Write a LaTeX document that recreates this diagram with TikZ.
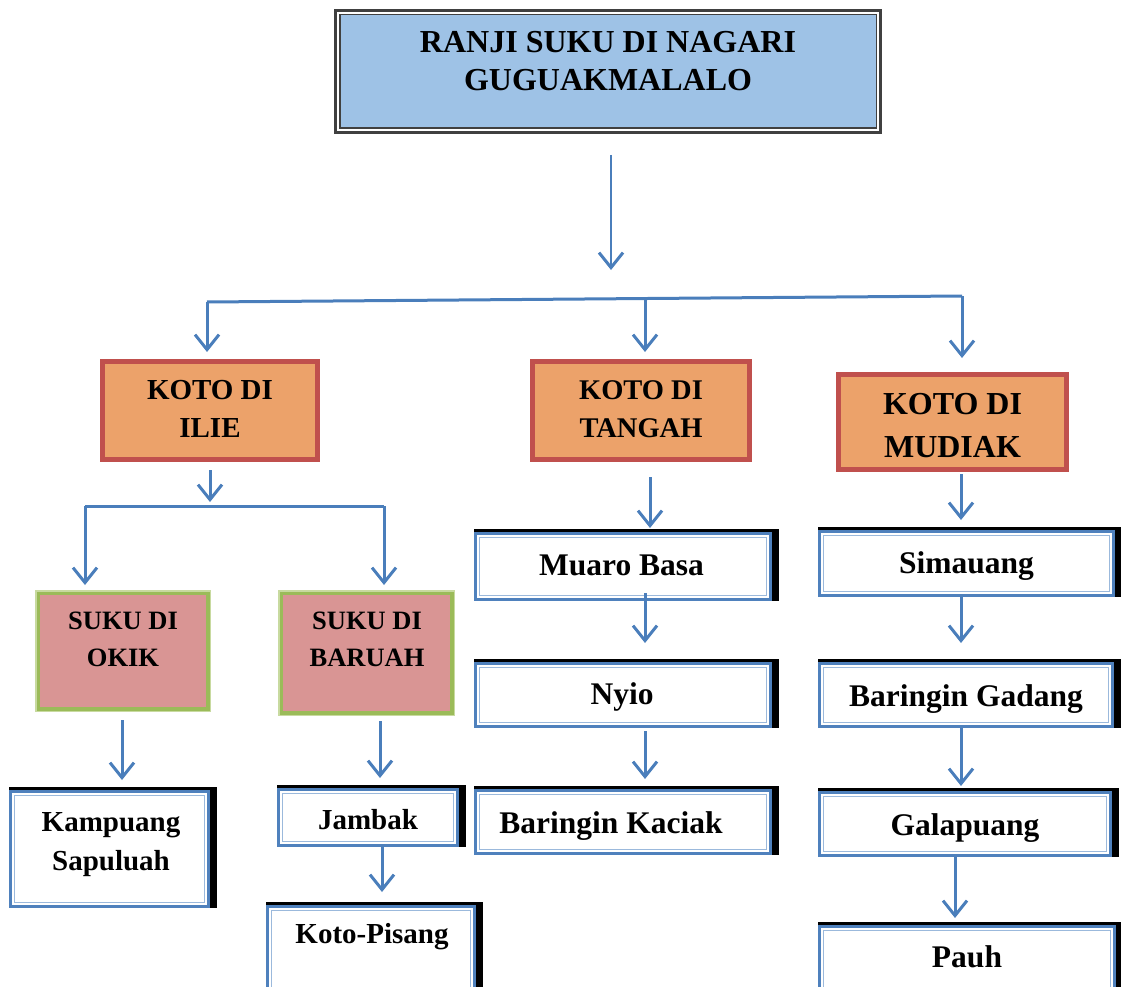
\documentclass[tikz,border=0pt]{standalone}
\usepackage{fontspec}
\setmainfont{Liberation Serif}
\usetikzlibrary{arrows.meta,backgrounds}
\definecolor{titlefill}{RGB}{158,194,230}
\definecolor{titleline}{RGB}{64,64,64}
\definecolor{orangefill}{RGB}{236,162,106}
\definecolor{redline}{RGB}{192,80,77}
\definecolor{pinkfill}{RGB}{217,149,148}
\definecolor{greenline}{RGB}{155,187,89}
\definecolor{lgreenline}{RGB}{200,218,160}
\definecolor{blueline}{RGB}{79,129,189}
\definecolor{lblueline}{RGB}{155,185,220}
\definecolor{arrowblue}{RGB}{74,126,187}
\newcommand{\fs}[2]{\fontsize{#1}{#2}\selectfont\bfseries}
\tikzset{
  arr/.style={draw=arrowblue, line width=3pt, line join=round,
    -{Straight Barb[length=15pt,width=24pt,line width=3pt]}},
  ln/.style={draw=arrowblue, line width=3pt, line join=round},
  titlebox/.style={draw=titleline, line width=3pt, fill=titlefill, inner sep=0pt,
    path picture={
      \draw[white, line width=2pt]
        ([shift={(2.5pt,2.5pt)}]path picture bounding box.south west) rectangle
        ([shift={(-2.5pt,-2.5pt)}]path picture bounding box.north east);
      \draw[titleline, line width=1.4pt]
        ([shift={(4.3pt,4.3pt)}]path picture bounding box.south west) rectangle
        ([shift={(-4.3pt,-4.3pt)}]path picture bounding box.north east);}},
  kotobox/.style={draw=redline, line width=5pt, fill=orangefill, inner sep=0pt},
  sukubox/.style={draw=lgreenline, line width=1.5pt, fill=pinkfill, inner sep=0pt,
    path picture={
      \draw[greenline, line width=3.2pt]
        ([shift={(2.3pt,2.3pt)}]path picture bounding box.south west) rectangle
        ([shift={(-2.3pt,-2.3pt)}]path picture bounding box.north east);}},
  whitebox/.style={draw=blueline, line width=3pt, fill=white, inner sep=0pt,
    path picture={
      \draw[lblueline, line width=1.5pt]
        ([shift={(3.8pt,3.8pt)}]path picture bounding box.south west) rectangle
        ([shift={(-3.8pt,-3.8pt)}]path picture bounding box.north east);}},
  boxshadow/.style={fill=black},
  txt/.style={inner sep=0pt, align=center, text=black},
}
\begin{document}
\begin{tikzpicture}[x=1pt,y=-1pt]
\useasboundingbox (0,0) rectangle (1121,987);
\clip (0,0) rectangle (1121,987);

% boxes
\node[titlebox, minimum width=545pt, minimum height=122pt] (title) at (608,71.5) {};
\node[kotobox, minimum width=215pt, minimum height=98pt] (ilie) at (210,410.5) {};
\node[kotobox, minimum width=217pt, minimum height=98pt] (tangah) at (641,410.5) {};
\node[kotobox, minimum width=228pt, minimum height=95pt] (mudiak) at (952.5,422) {};
\node[sukubox, minimum width=174.5pt, minimum height=120.5pt] (okik) at (123,651) {};
\node[sukubox, minimum width=175.5pt, minimum height=124.5pt] (baruah) at (366.5,653) {};
\node[whitebox, minimum width=198pt, minimum height=115pt] (kampuang) at (109.5,849) {};
\node[whitebox, minimum width=179pt, minimum height=56pt] (jambak) at (368,817.5) {};
\node[whitebox, minimum width=207pt, minimum height=112pt] (kotopisang) at (371,962.5) {};
\node[whitebox, minimum width=295pt, minimum height=66pt] (muaro) at (623,566.5) {};
\node[whitebox, minimum width=295pt, minimum height=63pt] (nyio) at (623,695) {};
\node[whitebox, minimum width=295pt, minimum height=63pt] (kaciak) at (623,822) {};
\node[whitebox, minimum width=294pt, minimum height=64pt] (simauang) at (966.5,563.5) {};
\node[whitebox, minimum width=293pt, minimum height=63pt] (gadang) at (966,695) {};
\node[whitebox, minimum width=291pt, minimum height=63pt] (galapuang) at (965,824) {};
\node[whitebox, minimum width=295pt, minimum height=112pt] (pauh) at (967,982.5) {};

% shadows of the white boxes (black bar on top and right)
\begin{scope}[on background layer]
\foreach \b in {kampuang,jambak,kotopisang,muaro,nyio,kaciak,simauang,gadang,galapuang,pauh}
  \fill[boxshadow] ([yshift=3pt]\b.north west) rectangle ([xshift=7pt]\b.south east);
\end{scope}

% texts
\node[txt, font=\fs{32}{38.5}] (title-t) at (608,61) {RANJI SUKU DI NAGARI\\GUGUAKMALALO};
\node[txt, font=\fs{29}{38}] (ilie-t) at (210,409) {KOTO DI\\ILIE};
\node[txt, font=\fs{28.5}{38}] (tangah-t) at (641,409) {KOTO DI\\TANGAH};
\node[txt, font=\fs{32}{43}] (mudiak-t) at (952.5,425.5) {KOTO DI\\MUDIAK};
\node[txt, font=\fs{26.5}{37}] (okik-t) at (123,639) {SUKU DI\\OKIK};
\node[txt, font=\fs{26.5}{37}] (baruah-t) at (367,639) {SUKU DI\\BARUAH};
\node[txt, font=\fs{29}{39}] (kampuang-t) at (111,845) {Kampuang\\Sapuluah};
\node[txt, font=\fs{29}{35}, anchor=base] (jambak-t) at (368,829) {Jambak};
\node[txt, font=\fs{29}{35}, anchor=base] (kotopisang-t) at (372,943) {Koto-Pisang};
\node[txt, font=\fs{31.5}{38}, anchor=base] (muaro-t) at (621.5,575) {Muaro Basa};
\node[txt, font=\fs{31.5}{38}, anchor=base] (nyio-t) at (622,704) {Nyio};
\node[txt, font=\fs{31.5}{38}, anchor=base] (kaciak-t) at (611,833) {Baringin Kaciak};
\node[txt, font=\fs{31.5}{38}, anchor=base] (simauang-t) at (966.5,573) {Simauang};
\node[txt, font=\fs{31.5}{38}, anchor=base] (gadang-t) at (966,706) {Baringin Gadang};
\node[txt, font=\fs{31.5}{38}, anchor=base] (galapuang-t) at (965,835) {Galapuang};
\node[txt, font=\fs{31.5}{38}, anchor=base] (pauh-t) at (967,967) {Pauh};

% connectors
\coordinate (t0) at (611,155);
\coordinate (t1) at (611,270);
\draw[arr, line width=2.2pt] (t0) -- (t1);

\coordinate (hl) at (207,302);
\coordinate (hr) at (962,296);
\coordinate (hm) at (645,298.5);
\draw[ln] (hl) -- (hr);
\draw[arr] (hl) -- (hl |- 0,352);
\draw[arr] (hm) -- (hm |- 0,352);
\draw[arr] (hr) -- (hr |- 0,358);

\draw[arr] (ilie.south -| 210,0) ++(0,8) -- (210,502);
\coordinate (bl) at (85,506);
\coordinate (br) at (384,506);
\draw[ln] (bl) -- (br);
\draw[arr] (bl) -- (85,585);
\draw[arr] (br) -- (384,585);

\draw[arr] (okik.south -| 122,0) ++(0,8) -- (122,780);
\draw[arr] (baruah.south -| 380,0) ++(0,5) -- (380,778);
\draw[arr] (jambak.south -| 382,0) -- (382,892);

\draw[arr] (tangah.south -| 650,0) ++(0,15) -- (650,528);
\draw[arr] (muaro.south -| 645,0) ++(0,-8) -- (645,643);
\draw[arr] (nyio.south -| 645,0) ++(0,3) -- (645,779);

\draw[arr] (mudiak.south -| 961,0) ++(0,2) -- (961,520);
\draw[arr] (simauang.south -| 961,0) -- (961,643);
\draw[arr] (gadang.south -| 961,0) -- (961,786);
\draw[arr] (galapuang.south -| 955,0) -- (955,918);
\end{tikzpicture}
\end{document}
